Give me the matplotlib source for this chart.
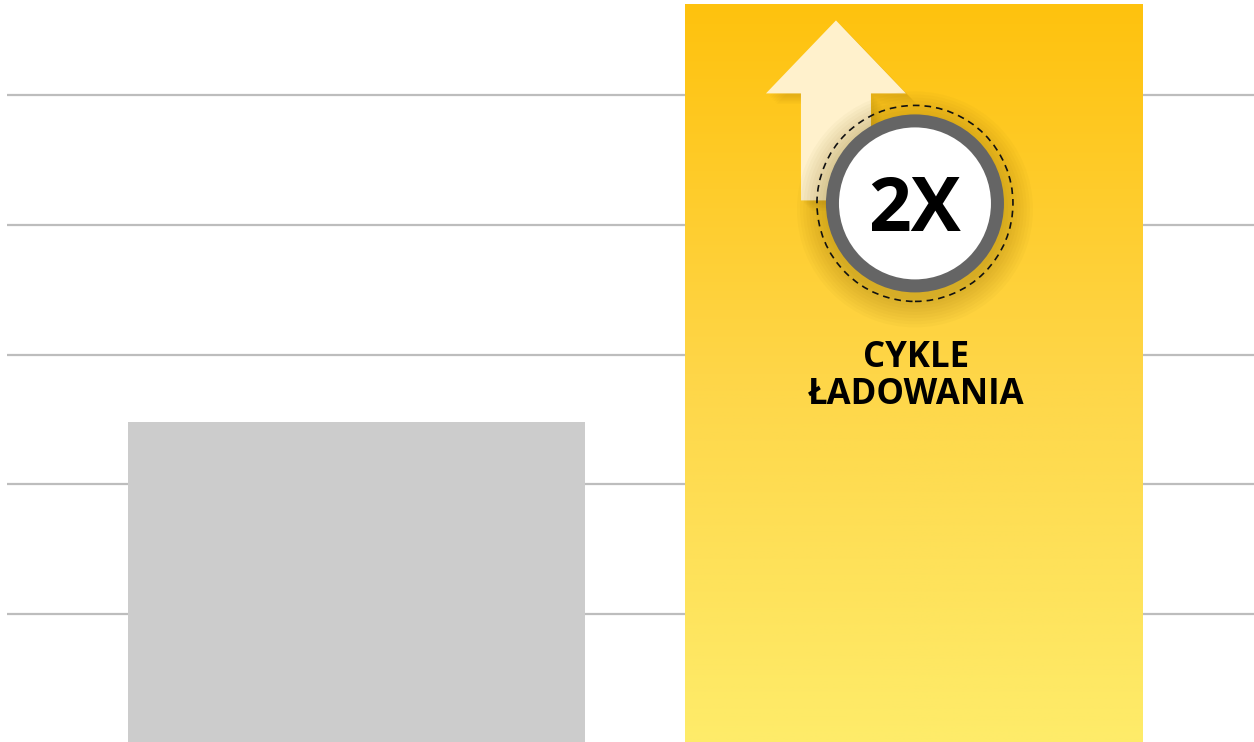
import numpy as np
import matplotlib
matplotlib.use("Agg")
import matplotlib.pyplot as plt
from matplotlib.colors import LinearSegmentedColormap
from matplotlib.patches import Circle, Polygon

plt.rcParams['font.family'] = ['Open Sans', 'DejaVu Sans']

# dane
categories = ['przed', 'po']
values = [2.48, 5.70]
grid_levels = [1, 2, 3, 4, 5]
badge_text = '2X'
label_text = 'CYKLE\nŁADOWANIA'

W, H = 1254, 742
fig = plt.figure(figsize=(W / 100, H / 100), dpi=100)
ax = fig.add_axes([7 / W, 0, 1 - 7 / W, 1])

x = np.arange(len(categories))
bars = ax.bar(x, values, width=0.82, color=['#CCCCCC', 'none'], zorder=2)
ax.set_xlim(-0.627, 1.61)
ax.set_ylim(0.0154, 5.734)
ax.set_yticks(grid_levels)
ax.grid(axis='y', color='#BDBDBD', lw=1.6, zorder=0)
ax.set_xticks([])
ax.tick_params(left=False, labelleft=False)
for s in ax.spines.values():
    s.set_visible(False)

# gradient w zoltym slupku
cmap = LinearSegmentedColormap.from_list('yel', ['#FEEC6A', '#FED648', '#FFC20E'])
b = bars[1]
x0, x1 = b.get_x(), b.get_x() + b.get_width()
grad = np.linspace(0, 1, 256).reshape(-1, 1)
im = ax.imshow(grad, extent=[x0, x1, 0, b.get_height()], origin='lower', cmap=cmap,
               aspect='auto', zorder=2)
im.set_clip_path(b)

# nakladka w pikselach, zakotwiczona na gorze slupka
cx, top = ax.transData.transform((x[1], values[1]))
ov = fig.add_axes([0, 0, 1, 1])
ov.set_xlim(0, W)
ov.set_ylim(0, H)
ov.axis('off')

# strzalka
ax_c = cx - 78
arrow = [(ax_c, top - 16), (ax_c + 70, top - 89), (ax_c + 35, top - 89), (ax_c + 35, top - 196),
         (ax_c - 35, top - 196), (ax_c - 35, top - 89), (ax_c - 70, top - 89)]
for k in range(6):
    sh = [(px + 3 + k * 1.5, py - 3 - k * 1.5) for px, py in arrow]
    ov.add_patch(Polygon(sh, closed=True, fc='#8A6400', ec='none', alpha=0.035, zorder=3))
ov.add_patch(Polygon(arrow, closed=True, fc='#FFF1CC', ec='none', zorder=4))

# okrag z cieniem
ccx, ccy = cx + 1, top - 199
for r in np.linspace(118, 90, 10):
    ov.add_patch(Circle((ccx, ccy - 6), r, fc='#7A5A00', ec='none', alpha=0.03, zorder=5))
ov.add_patch(Circle((ccx, ccy), 98, fc='none', ec='#111111', lw=1.2, ls=(0, (4, 3)), zorder=6))
ov.add_patch(Circle((ccx, ccy), 89, fc='#656565', ec='none', zorder=6))
ov.add_patch(Circle((ccx, ccy), 76, fc='white', ec='none', zorder=7))
ov.text(ccx, ccy - 8, badge_text, ha='center', va='center', fontsize=54, fontweight='bold',
        color='black', zorder=8)

ov.text(cx + 2, top - 372, label_text, ha='center', va='center', fontsize=25, fontweight='bold',
        color='black', linespacing=1.05, zorder=8)

fig.savefig('out.png', dpi=100)
